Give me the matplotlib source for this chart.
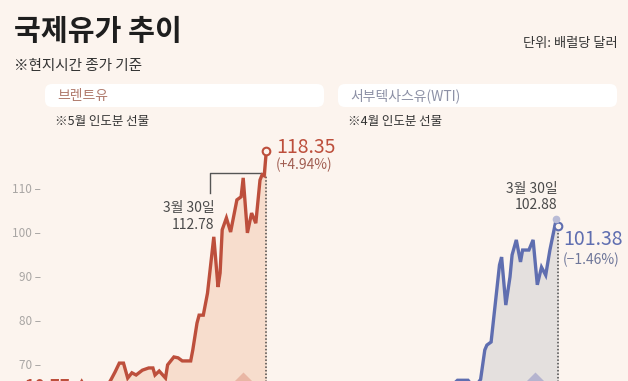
import matplotlib.pyplot as plt
from matplotlib.patches import FancyBboxPatch

plt.rcParams['font.family'] = ['Noto Sans CJK KR', 'DejaVu Sans']

# 거래일 인덱스 (3월 30일 = 82)
brent_day = [0, 4, 7, 9, 11, 13, 15, 17, 19, 21, 24, 27, 29, 30, 32, 35, 36, 39, 41, 43,
             47, 48, 50, 51, 53, 55, 58, 60, 61, 62, 64, 66, 69, 71, 72, 74, 76, 78, 80, 81,
             82, 83]
brent_price = [64.0, 63.5, 64.8, 66.4, 68.2, 70.2, 70.2, 66.8, 68.0, 67.5, 68.6, 69.1, 69.1,
               67.5, 68.4, 66.8, 69.8, 71.6, 71.4, 70.7, 70.7, 73.2, 79.3, 81.1, 81.1, 86.1,
               98.9, 87.5, 90.7, 100.5, 103.2, 100.0, 107.3, 108.0, 112.3, 99.8, 104.3, 102.0,
               111.8, 113.0, 112.78, 118.35]

wti_day = [0, 10, 20, 30, 35, 40, 43, 46, 48, 49, 51, 55, 56, 58, 60, 61, 63, 65, 66, 69,
           71, 73, 75, 77, 79, 82, 83]
wti_price = [62.0, 63.0, 62.5, 64.0, 66.3, 66.3, 64.5, 66.5, 73.2, 74.3, 75.0, 92.5, 94.3,
             83.4, 89.8, 94.8, 98.2, 93.2, 95.9, 95.9, 98.2, 88.0, 92.0, 90.2, 95.9, 102.88,
             101.38]

event_day = 72
yticks = [70, 80, 90, 100, 110]

BG = '#FCF4EE'
RED = '#BD4F3C'
BLUE = '#5F6EB0'

W, H = 628, 381
fig = plt.figure(figsize=(W / 100, H / 100), dpi=100, facecolor=BG)

# 배경 레이어 (픽셀 좌표)
bg = fig.add_axes([0, 0, 1, 1])
bg.set_xlim(0, W)
bg.set_ylim(H, 0)
bg.axis('off')

bg.text(14, 31, '국제유가 추이', fontsize=21, fontweight='bold', color='#1E1E1E', va='center')
bg.text(14, 66, '※현지시간 종가 기준', fontsize=10.5, color='#333333', va='center')
bg.text(618, 43, '단위: 배럴당 달러', fontsize=9.5, color='#333333', va='center', ha='right')

for x0, label, c in [(45, '브렌트유', '#B07A6C'), (338, '서부텍사스유(WTI)', '#8D91A6')]:
    bg.add_patch(FancyBboxPatch((x0, 84), 279, 23, boxstyle='round,pad=0,rounding_size=7',
                                fc='white', ec='none'))
    bg.text(x0 + 12, 96, label, fontsize=10, color=c, va='center')
bg.text(55, 122, '※5월 인도분 선물', fontsize=9, color='#333333', va='center')
bg.text(348, 122, '※4월 인도분 선물', fontsize=9, color='#333333', va='center')
# 시작값 라벨 (원본에서도 아래가 잘려 있음)
bg.text(25, 378, '10.77 ▲', fontsize=12, fontweight='bold', color=RED, va='top')

ylo = 110 - (H - 188) / 4.4
yhi = 110 + (188 - 130) / 4.4
xlo = -47 / 2.1
xhi = (278 - 47) / 2.1


def panel(left, days, prices, color, fill, tri_color):
    ax = fig.add_axes([left / W, 0, 278 / W, (H - 130) / H])
    ax.set_facecolor('none')
    ax.set_xlim(xlo, xhi)
    ax.set_ylim(ylo, yhi)
    for s in ax.spines.values():
        s.set_visible(False)
    ax.set_xticks([])
    ax.fill_between(days, prices, 40, color=fill, lw=0, zorder=1)
    ax.plot(days, prices, color=color, lw=2.4, solid_joinstyle='miter', zorder=3)
    ax.vlines(days[-1], 40, prices[-2], colors='#4A4A4A', linestyles=(0, (1, 1.3)), lw=1.1, zorder=2)
    ax.scatter([event_day], [68.2], marker=[(0, 0), (-1, -1), (1, -1)], s=330,
               color=tri_color, lw=0, zorder=2)
    ax.plot(days[-1], prices[-1], 'o', ms=5.5, mfc=BG, mec=color, mew=1.5, zorder=4)
    return ax


axl = panel(45, brent_day, brent_price, RED, '#F7DDCD', '#E9B6A4')
axl.set_yticks(yticks)
axl.set_yticklabels([f'{v} –' for v in yticks])
axl.tick_params(axis='y', length=0, pad=3, labelsize=8.5, labelcolor='#A9A6A4')

axl.plot([56, 56, 82], [108.9, 113.5, 113.5], color='#555555', lw=1, zorder=2)
axl.annotate('3월 30일\n112.78', (brent_day[-2], brent_price[-2]), xytext=(-36, -29.5),
             textcoords='offset points', ha='right', va='center', fontsize=10,
             color='#4A4A4A', linespacing=1.25)
axl.annotate(f'{brent_price[-1]:.2f}', (brent_day[-1], brent_price[-1]), xytext=(7, 3),
             textcoords='offset points', ha='left', va='center', fontsize=14, color=RED)
axl.annotate('(+4.94%)', (brent_day[-1], brent_price[-1]), xytext=(7, -9.5),
             textcoords='offset points', ha='left', va='center', fontsize=10, color='#A15E52')

axr = panel(337, wti_day, wti_price, BLUE, '#E4E0DE', '#B5B4CF')
axr.set_yticks([])
axr.plot(wti_day[-2], wti_price[-2], 'o', ms=4.5, color='#B9BBD6', zorder=4)
axr.annotate('3월 30일\n102.88', (wti_day[-2], wti_price[-2]), xytext=(1, 16),
             textcoords='offset points', ha='right', va='center', fontsize=10,
             color='#4A4A4A', linespacing=1.25)
axr.annotate(f'{wti_price[-1]:.2f}', (wti_day[-1], wti_price[-1]), xytext=(3.5, -10),
             textcoords='offset points', ha='left', va='center', fontsize=14, color=BLUE)
axr.annotate('(−1.46%)', (wti_day[-1], wti_price[-1]), xytext=(3.5, -24.5),
             textcoords='offset points', ha='left', va='center', fontsize=10, color='#6E7699')

fig.savefig('out.png', dpi=100, facecolor=BG)
